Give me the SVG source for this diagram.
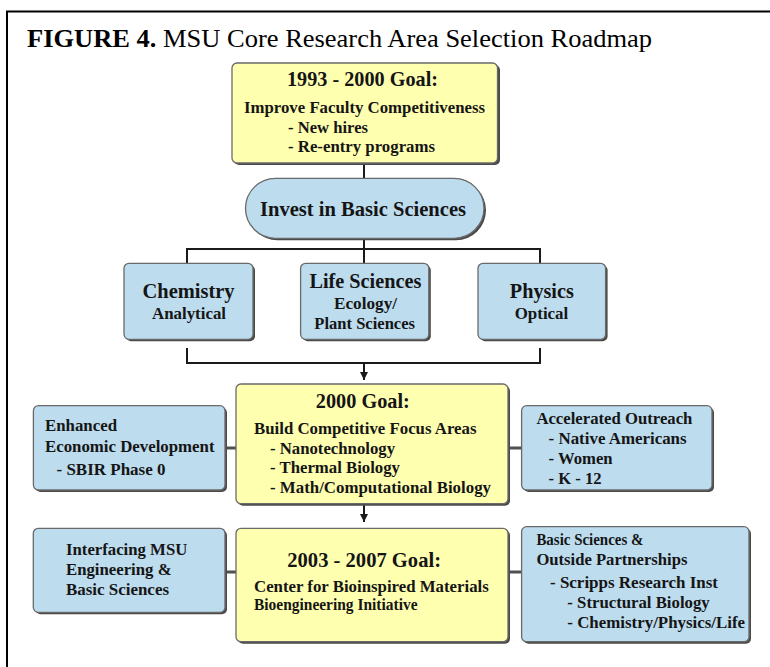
<svg xmlns="http://www.w3.org/2000/svg" width="770" height="667" viewBox="0 0 770 667">
<defs>
<style>
.t{font-family:"Liberation Serif","Times New Roman",serif;font-weight:bold;fill:#151515;}
.h{font-size:21px;}
.b{font-size:17.5px;}
.blue{fill:#bddcee;stroke:#6a6a6a;stroke-width:1.3;}
.yel{fill:#ffffb0;stroke:#6a6a6a;stroke-width:1.3;}
.sh{fill:#4a4a4a;}
.ln{stroke:#1a1a1a;stroke-width:2;fill:none;}
.side{stroke:#505050;stroke-width:3;fill:none;}
</style>
<marker id="arr" viewBox="0 0 8 8" refX="8" refY="4" markerWidth="8" markerHeight="8" markerUnits="userSpaceOnUse" orient="auto">
<path d="M0,0 L8,4 L0,8 z" fill="#1a1a1a"/>
</marker>
</defs>
<rect width="770" height="667" fill="#ffffff"/>
<path d="M7,667 V11.5 H770" fill="none" stroke="#000" stroke-width="2"/>
<text x="27" y="47" font-family="Liberation Serif,'Times New Roman',serif" font-size="26" fill="#000" textLength="625" lengthAdjust="spacingAndGlyphs"><tspan font-weight="bold">FIGURE 4.</tspan>  MSU Core Research Area Selection Roadmap</text>

<g id="connectors">
<line class="ln" x1="364" y1="163" x2="364" y2="178"/>
<line class="ln" x1="364" y1="238" x2="364" y2="263"/>
<path class="ln" d="M187,263 V249 H540 V263"/>
<path class="ln" d="M187,348 V363 H540 V348"/>
<line class="ln" x1="364" y1="363" x2="364" y2="380" marker-end="url(#arr)"/>
<line class="ln" x1="364" y1="504" x2="364" y2="522" marker-end="url(#arr)"/>
<line class="side" x1="225" y1="448" x2="237" y2="448"/>
<line class="side" x1="509" y1="448" x2="522" y2="448"/>
<line class="side" x1="225" y1="572" x2="237" y2="572"/>
<line class="side" x1="509" y1="572" x2="522" y2="572"/>
</g>

<g id="goal1993">
<rect class="sh" x="234" y="65" width="266" height="100" rx="5"/>
<rect class="yel" x="232" y="63" width="265.5" height="100" rx="5"/>
<text class="t h" x="287" y="86" textLength="151" lengthAdjust="spacingAndGlyphs">1993 - 2000 Goal:</text>
<text class="t b" x="244" y="113" textLength="241" lengthAdjust="spacingAndGlyphs">Improve Faculty Competitiveness</text>
<text class="t b" x="288" y="133" textLength="80" lengthAdjust="spacingAndGlyphs">- New hires</text>
<text class="t b" x="288" y="152" textLength="147" lengthAdjust="spacingAndGlyphs">- Re-entry programs</text>
</g>

<g id="invest">
<rect class="sh" x="247.5" y="180.3" width="238.5" height="60" rx="30"/>
<rect class="blue" x="245.5" y="178.3" width="238.5" height="60" rx="30"/>
<text class="t h" x="260" y="216" textLength="206" lengthAdjust="spacingAndGlyphs">Invest in Basic Sciences</text>
</g>

<g id="chemistry">
<rect class="sh" x="126" y="265.3" width="129" height="76" rx="5"/>
<rect class="blue" x="124" y="263.3" width="129" height="76" rx="5"/>
<text class="t h" x="142.5" y="298.3" textLength="92" lengthAdjust="spacingAndGlyphs">Chemistry</text>
<text class="t b" x="152" y="319" textLength="74" lengthAdjust="spacingAndGlyphs">Analytical</text>
</g>

<g id="lifesciences">
<rect class="sh" x="302.6" y="265.3" width="128.2" height="76" rx="5"/>
<rect class="blue" x="300.6" y="263.3" width="128.2" height="76" rx="5"/>
<text class="t h" x="309.4" y="288.3" textLength="112" lengthAdjust="spacingAndGlyphs">Life Sciences</text>
<text class="t b" x="334" y="309.3" textLength="63" lengthAdjust="spacingAndGlyphs">Ecology/</text>
<text class="t b" x="314.3" y="329.3" textLength="100.7" lengthAdjust="spacingAndGlyphs">Plant Sciences</text>
</g>

<g id="physics">
<rect class="sh" x="480" y="265.3" width="127.6" height="76" rx="5"/>
<rect class="blue" x="478" y="263.3" width="127.6" height="76" rx="5"/>
<text class="t h" x="509.8" y="298.3" textLength="64" lengthAdjust="spacingAndGlyphs">Physics</text>
<text class="t b" x="514.7" y="319" textLength="53.6" lengthAdjust="spacingAndGlyphs">Optical</text>
</g>

<g id="goal2000">
<rect class="sh" x="238" y="386" width="272" height="119.7" rx="5"/>
<rect class="yel" x="236" y="384" width="272" height="119.7" rx="5"/>
<text class="t h" x="315.8" y="408.3" textLength="94" lengthAdjust="spacingAndGlyphs">2000 Goal:</text>
<text class="t b" x="254" y="434" textLength="222.5" lengthAdjust="spacingAndGlyphs">Build Competitive Focus Areas</text>
<text class="t b" x="270" y="454" textLength="125" lengthAdjust="spacingAndGlyphs">- Nanotechnology</text>
<text class="t b" x="270" y="473.3" textLength="130" lengthAdjust="spacingAndGlyphs">- Thermal Biology</text>
<text class="t b" x="270" y="492.7" textLength="221" lengthAdjust="spacingAndGlyphs">- Math/Computational Biology</text>
</g>

<g id="enhanced">
<rect class="sh" x="35.4" y="407.7" width="191.6" height="84.3" rx="5"/>
<rect class="blue" x="33.4" y="405.7" width="191.6" height="84.3" rx="5"/>
<text class="t b" x="45" y="430.7" textLength="72" lengthAdjust="spacingAndGlyphs">Enhanced</text>
<text class="t b" x="45" y="451.7" textLength="169.5" lengthAdjust="spacingAndGlyphs">Economic Development</text>
<text class="t b" x="56.5" y="475" textLength="109" lengthAdjust="spacingAndGlyphs">- SBIR Phase 0</text>
</g>

<g id="outreach">
<rect class="sh" x="523.6" y="407.7" width="190.4" height="84.3" rx="5"/>
<rect class="blue" x="521.6" y="405.7" width="190.4" height="84.3" rx="5"/>
<text class="t b" x="536.4" y="424" textLength="156" lengthAdjust="spacingAndGlyphs">Accelerated Outreach</text>
<text class="t b" x="548.6" y="444.3" textLength="138" lengthAdjust="spacingAndGlyphs">- Native Americans</text>
<text class="t b" x="548.6" y="464" textLength="64" lengthAdjust="spacingAndGlyphs">- Women</text>
<text class="t b" x="548.6" y="484" textLength="53" lengthAdjust="spacingAndGlyphs">- K - 12</text>
</g>

<g id="goal2003">
<rect class="sh" x="238" y="530.3" width="272" height="113.4" rx="5"/>
<rect class="yel" x="236" y="528.3" width="272" height="113.4" rx="5"/>
<text class="t h" x="287.3" y="566.7" textLength="153.7" lengthAdjust="spacingAndGlyphs">2003 - 2007 Goal:</text>
<text class="t b" x="254" y="591.7" textLength="234.8" lengthAdjust="spacingAndGlyphs">Center for Bioinspired Materials</text>
<text class="t b" x="254" y="610" textLength="163.5" lengthAdjust="spacingAndGlyphs">Bioengineering Initiative</text>
</g>

<g id="interfacing">
<rect class="sh" x="35.3" y="530.3" width="191.7" height="84" rx="5"/>
<rect class="blue" x="33.3" y="528.3" width="191.7" height="84" rx="5"/>
<text class="t b" x="66" y="555" textLength="121.3" lengthAdjust="spacingAndGlyphs">Interfacing MSU</text>
<text class="t b" x="66" y="575" textLength="105.6" lengthAdjust="spacingAndGlyphs">Engineering &amp;</text>
<text class="t b" x="66" y="595" textLength="103" lengthAdjust="spacingAndGlyphs">Basic Sciences</text>
</g>

<g id="partnerships">
<rect class="sh" x="523.6" y="528.7" width="227.4" height="115" rx="5"/>
<rect class="blue" x="521.6" y="526.7" width="227.4" height="115" rx="5"/>
<text class="t b" x="536.4" y="545" textLength="107" lengthAdjust="spacingAndGlyphs">Basic Sciences &amp;</text>
<text class="t b" x="536.4" y="565" textLength="151" lengthAdjust="spacingAndGlyphs">Outside Partnerships</text>
<text class="t b" x="550" y="588.3" textLength="168" lengthAdjust="spacingAndGlyphs">- Scripps Research Inst</text>
<text class="t b" x="567.3" y="608.3" textLength="142.4" lengthAdjust="spacingAndGlyphs">- Structural Biology</text>
<text class="t b" x="567.3" y="628.3" textLength="177.8" lengthAdjust="spacingAndGlyphs">- Chemistry/Physics/Life</text>
</g>
</svg>
